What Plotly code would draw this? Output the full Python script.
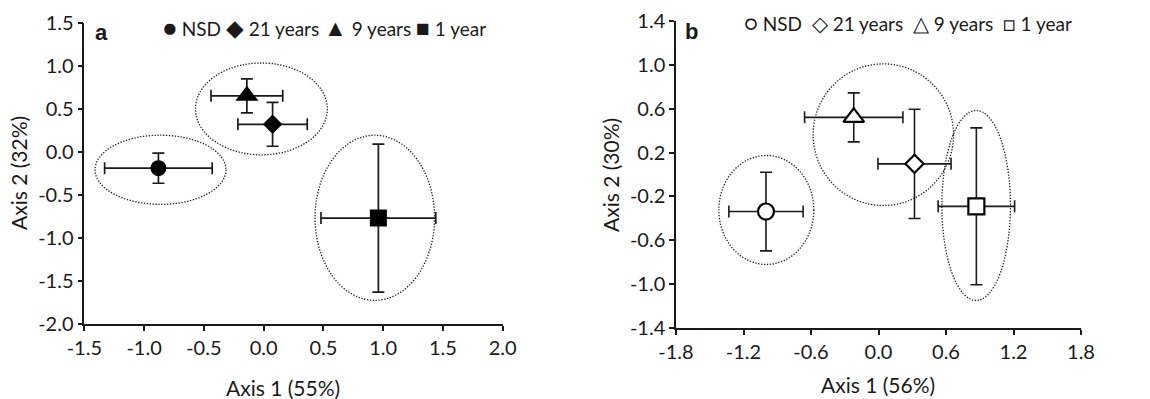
import plotly.graph_objects as go

FONT = "Lato"
INK = "#1a1a1a"

# ---------------- data ----------------
groups = ["NSD", "21 years", "9 years", "1 year"]

# Panel a
a_x = [-0.88, 0.075, -0.14, 0.96]
a_y = [-0.19, 0.32, 0.65, -0.77]
a_ex = [0.45, 0.29, 0.30, 0.48]
a_ey = [0.175, 0.255, 0.197, 0.86]
# ellipses: x0, x1, y0, y1
a_ell_x0 = [-1.41, -0.57, 0.43]
a_ell_x1 = [-0.315, 0.533, 1.43]
a_ell_y0 = [-0.61, -0.035, -1.725]
a_ell_y1 = [0.193, 1.032, 0.193]

# Panel b
b_x = [-1.0, 0.32, -0.22, 0.87]
b_y = [-0.337, 0.097, 0.52, -0.29]
b_ex = [0.33, 0.325, 0.437, 0.34]
b_ey = [0.358, 0.497, 0.223, 0.714]
b_ell_x0 = [-1.419, -0.581, 0.563]
b_ell_x1 = [-0.575, 0.667, 1.173]
b_ell_y0 = [-0.819, -0.282, -1.147]
b_ell_y1 = [0.173, 1.007, 0.583]

a_xticks = [-1.5, -1.0, -0.5, 0.0, 0.5, 1.0, 1.5, 2.0]
a_yticks = [-2.0, -1.5, -1.0, -0.5, 0.0, 0.5, 1.0, 1.5]
b_xticks = [-1.8, -1.2, -0.6, 0.0, 0.6, 1.2, 1.8]
b_yticks = [-1.4, -1.0, -0.6, -0.2, 0.2, 0.6, 1.0, 1.4]

a_legend_glyphs = ["●", "◆", "▲", "■"]
b_legend_glyphs = ["○", "◇", "△", "□"]

filled_symbols = ["circle", "diamond", "triangle-up", "square"]
filled_sizes = [16, 15, 20, 17]
open_sizes = [16, 14, 18, 16]

fig = go.Figure()

for i, g in enumerate(groups):
    fig.add_trace(go.Scatter(
        x=[a_x[i]], y=[a_y[i]], mode="markers", name=g, showlegend=False,
        marker=dict(symbol=filled_symbols[i], size=filled_sizes[i], color="black",
                    line=dict(width=0)),
        error_x=dict(type="data", array=[a_ex[i]], color=INK, thickness=1.7, width=6),
        error_y=dict(type="data", array=[a_ey[i]], color=INK, thickness=1.7, width=6),
        xaxis="x", yaxis="y"))
    fig.add_trace(go.Scatter(
        x=[b_x[i]], y=[b_y[i]], mode="markers", name=g, showlegend=False,
        marker=dict(symbol=filled_symbols[i], size=open_sizes[i], color="white",
                    line=dict(width=2.2, color="black")),
        error_x=dict(type="data", array=[b_ex[i]], color=INK, thickness=1.6, width=6),
        error_y=dict(type="data", array=[b_ey[i]], color=INK, thickness=1.6, width=6),
        xaxis="x2", yaxis="y2"))

ell_line = dict(color=INK, width=1.3, dash="1.3px,1.6px")
shapes = []
for x0, x1, y0, y1 in zip(a_ell_x0, a_ell_x1, a_ell_y0, a_ell_y1):
    shapes.append(dict(type="circle", xref="x", yref="y", x0=x0, x1=x1, y0=y0, y1=y1,
                       line=ell_line, layer="below"))
for x0, x1, y0, y1 in zip(b_ell_x0, b_ell_x1, b_ell_y0, b_ell_y1):
    shapes.append(dict(type="circle", xref="x2", yref="y2", x0=x0, x1=x1, y0=y0, y1=y1,
                       line=ell_line, layer="below"))

W, H = 1150, 399


def px(xp):
    return xp / W


def py(yp):
    return 1 - yp / H


axis_common = dict(showgrid=False, zeroline=False, showline=True, linecolor=INK,
                   linewidth=1.5, ticks="outside", ticklen=5, tickwidth=1.5,
                   tickcolor=INK, tickfont=dict(family=FONT, size=20, color=INK),
                   fixedrange=True, automargin=False)

fig.update_layout(
    width=W, height=H, margin=dict(l=0, r=0, t=0, b=0, autoexpand=False),
    paper_bgcolor="white", plot_bgcolor="white",
    font=dict(family=FONT, color=INK),
    showlegend=False,
    shapes=shapes,
    xaxis=dict(domain=[px(84.3), px(502.7)], range=[-1.5, 2.0], tickvals=a_xticks,
               ticktext=[f"{v:.1f}" for v in a_xticks], anchor="y", **axis_common),
    yaxis=dict(domain=[py(324), py(22.7)], range=[-2.0, 1.5], tickvals=a_yticks,
               ticktext=[f"{v:.1f}" for v in a_yticks], anchor="x", **axis_common),
    xaxis2=dict(domain=[px(676), px(1081)], range=[-1.8, 1.8], tickvals=b_xticks,
                ticktext=[f"{v:.1f}" for v in b_xticks], anchor="y2", **axis_common),
    yaxis2=dict(domain=[py(328.3), py(20.7)], range=[-1.4, 1.4], tickvals=b_yticks,
                ticktext=[f"{v:.1f}" for v in b_yticks], anchor="x2", **axis_common),
)


def note(text, x, y, size, family=FONT, angle=0):
    return dict(text=text, x=px(x), y=py(y), xref="paper", yref="paper",
                xanchor="center", yanchor="middle", showarrow=False,
                textangle=angle, font=dict(family=family, size=size, color=INK))


a_legend = " ".join(f"<span style='font-size:23px'>{s}</span> {g}"
                    for s, g in zip(a_legend_glyphs, groups))
b_legend = "  ".join(f"<span style='font-size:21px'>{s}</span> {g}"
                     for s, g in zip(b_legend_glyphs, groups))

ann = [
    note("Axis 1 (55%)", 283, 387, 21),
    note("Axis 2 (32%)", 19, 173, 21, angle=-90),
    note("Axis 1 (56%)", 878, 384, 21),
    note("Axis 2 (30%)", 610, 175, 21, angle=-90),
    note("<b>a</b>", 101, 33, 22, family="Liberation Sans"),
    note("<b>b</b>", 691, 31, 22, family="Liberation Sans"),
    note(a_legend, 324, 27, 19),
    note(b_legend, 908, 22, 19),
]
fig.update_layout(annotations=ann)

fig.write_html("out.html")
